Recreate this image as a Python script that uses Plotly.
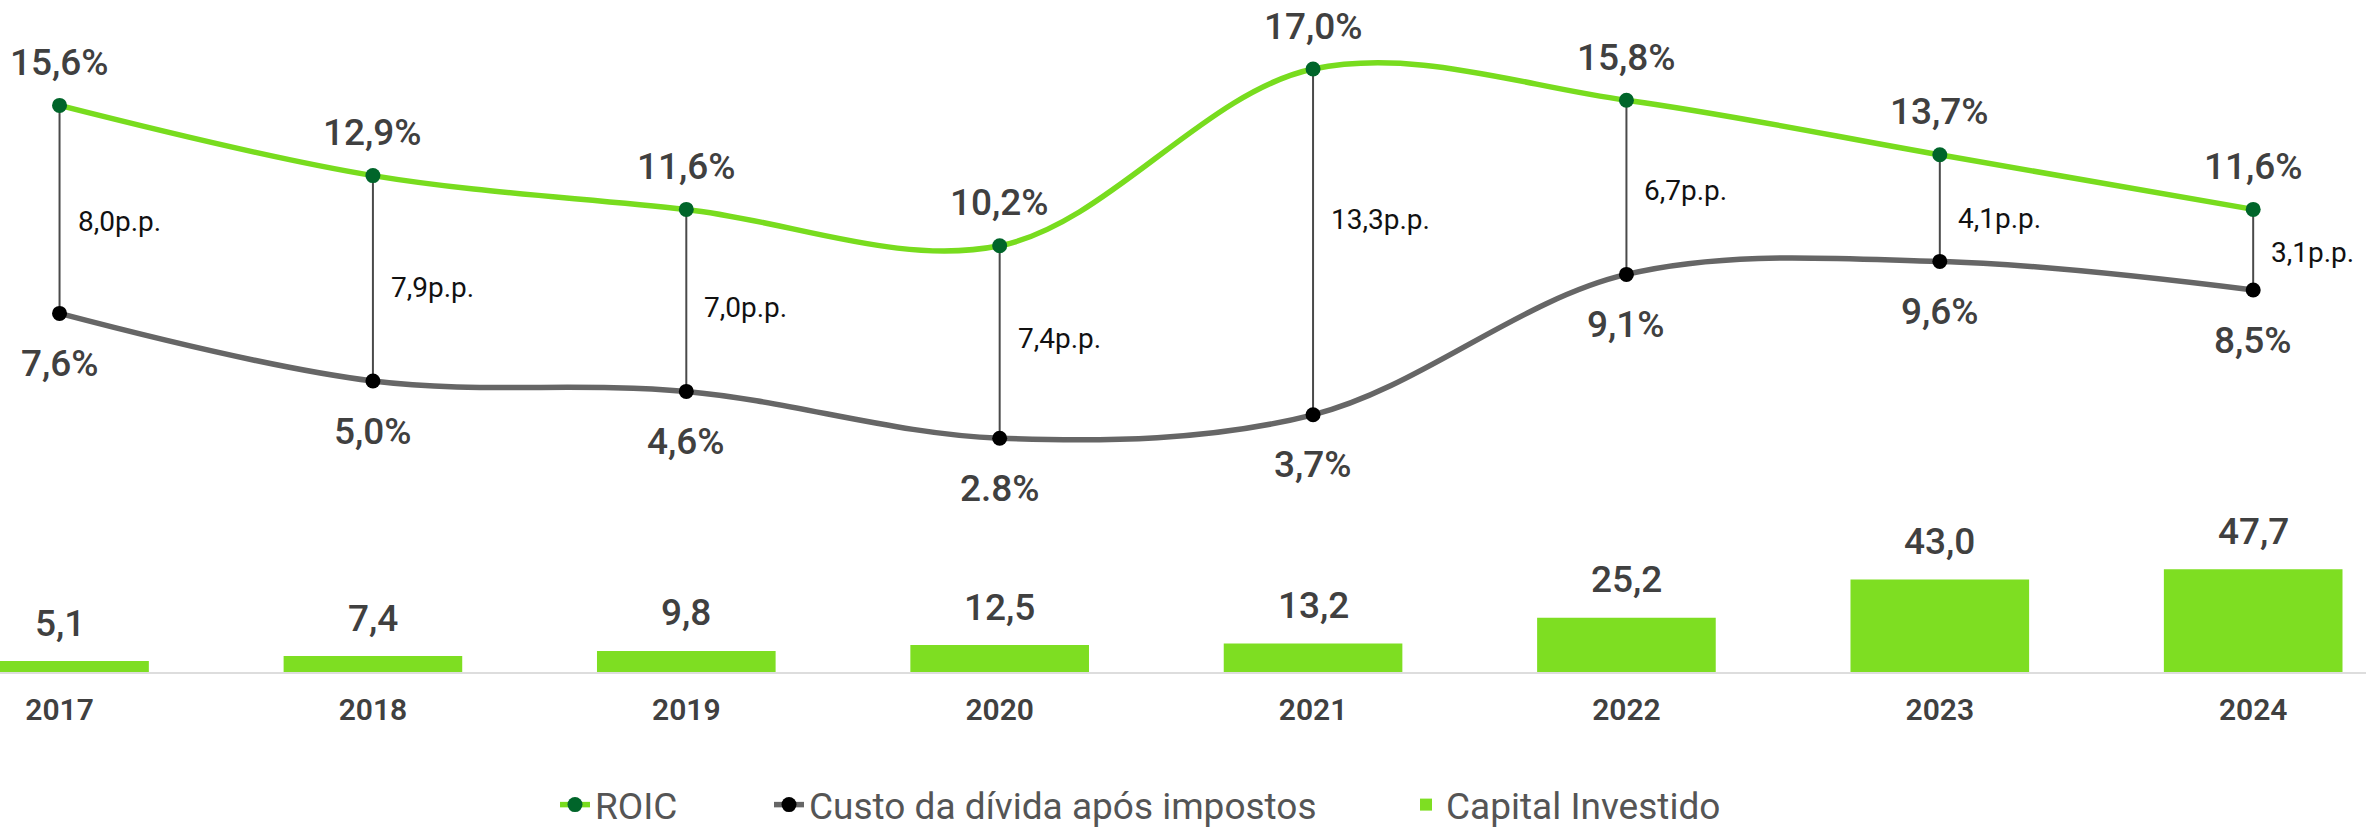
import plotly.graph_objects as go

# Source values
years = ["2017", "2018", "2019", "2020", "2021", "2022", "2023", "2024"]
roic = [15.6, 12.9, 11.6, 10.2, 17.0, 15.8, 13.7, 11.6]
custo = [7.6, 5.0, 4.6, 2.8, 3.7, 9.1, 9.6, 8.5]
capital = [5.1, 7.4, 9.8, 12.5, 13.2, 25.2, 43.0, 47.7]

roic_labels = ["15,6%", "12,9%", "11,6%", "10,2%", "17,0%", "15,8%", "13,7%", "11,6%"]
custo_labels = ["7,6%", "5,0%", "4,6%", "2.8%", "3,7%", "9,1%", "9,6%", "8,5%"]
capital_labels = ["5,1", "7,4", "9,8", "12,5", "13,2", "25,2", "43,0", "47,7"]

# Styling
GREEN_BAR = "#7EDE22"
GREEN_LINE = "#78DC1E"
GREEN_DOT = "#00652A"
GRAY_LINE = "#666666"
LABEL_COLOR = "#404040"
FONT = "Roboto"
# vertical nudge (px, positive = down) for the spread labels
spread_nudge = [12, 9, 7, -4, -22, 3, 10, 3]

# year slots on a numeric x axis, labelled with the years
xpos = list(range(len(years)))

fig = go.Figure()

# Capital Investido bars (primary axis)
fig.add_trace(go.Bar(
    x=xpos, y=capital, name="Capital Investido",
    marker=dict(color=GREEN_BAR, line=dict(width=0)),
    width=0.57, yaxis="y", legend="legend3",
))

# vertical connectors between ROIC and cost of debt
cx, cy = [], []
for xp, a, b in zip(xpos, roic, custo):
    cx += [xp, xp, None]
    cy += [a, b, None]
fig.add_trace(go.Scatter(
    x=cx, y=cy, mode="lines", yaxis="y2", showlegend=False, hoverinfo="skip",
    line=dict(color="#4a4a4a", width=2),
))

fig.add_trace(go.Scatter(
    x=xpos, y=roic, name="ROIC", yaxis="y2", mode="lines+markers",
    line=dict(color=GREEN_LINE, width=5.5, shape="spline", smoothing=1.0),
    marker=dict(color=GREEN_DOT, size=15),
    cliponaxis=False, legend="legend",
))
fig.add_trace(go.Scatter(
    x=xpos, y=custo, name="Custo da dívida após impostos", yaxis="y2",
    mode="lines+markers",
    line=dict(color=GRAY_LINE, width=5.5, shape="spline", smoothing=1.0),
    marker=dict(color="#000000", size=15),
    cliponaxis=False, legend="legend2",
))

annotations = []
big_font = dict(family=FONT, size=37, color=LABEL_COLOR, weight=500)
for xp, v, t in zip(xpos, roic, roic_labels):
    annotations.append(dict(x=xp, y=v, xref="x", yref="y2", text=t, showarrow=False,
                            yanchor="middle", yshift=43, font=big_font))
for xp, v, t in zip(xpos, custo, custo_labels):
    annotations.append(dict(x=xp, y=v, xref="x", yref="y2", text=t, showarrow=False,
                            yanchor="middle", yshift=-50, font=big_font))
for xp, v, t in zip(xpos, capital, capital_labels):
    annotations.append(dict(x=xp, y=v, xref="x", yref="y", text=t, showarrow=False,
                            yanchor="middle", yshift=38, font=big_font))
for xp, a, b, nd in zip(xpos, roic, custo, spread_nudge):
    diff = f"{a - b:.1f}".replace(".", ",") + "p.p."
    annotations.append(dict(x=xp, y=(a + b) / 2, xref="x", yref="y2", text=diff,
                            showarrow=False, xanchor="left", yanchor="middle",
                            xshift=16, yshift=-nd,
                            font=dict(family=FONT, size=28, color="#111111")))

hidden_axis = dict(showgrid=False, zeroline=False, showline=False,
                   showticklabels=False, ticks="")
legend_font = dict(family=FONT, size=37, color="#555555")
legend_common = dict(orientation="h", yanchor="middle", y=-0.198, xanchor="left",
                     font=legend_font, bgcolor="rgba(0,0,0,0)")

fig.update_layout(
    width=2366, height=829,
    margin=dict(l=0, r=0, t=0, b=157, autoexpand=False),
    paper_bgcolor="white", plot_bgcolor="white",
    font=dict(family=FONT, color=LABEL_COLOR),
    xaxis=dict(
        range=[-0.19, 7.36], tickmode="array", tickvals=xpos, ticktext=years,
        showgrid=False, zeroline=False,
        showline=True, linecolor="#dddddd", linewidth=2,
        ticks="", ticklabelstandoff=10,
        tickfont=dict(family=FONT, size=30, color=LABEL_COLOR, weight=600),
    ),
    yaxis=dict(range=[0, 312], **hidden_axis),
    yaxis2=dict(range=[-6.192, 19.654], overlaying="y", **hidden_axis),
    legend=dict(x=555 / 2366, **legend_common),
    legend2=dict(x=769 / 2366, **legend_common),
    legend3=dict(x=1406 / 2366, **legend_common),
    annotations=annotations,
    showlegend=True,
)

fig.write_html("out.html")
